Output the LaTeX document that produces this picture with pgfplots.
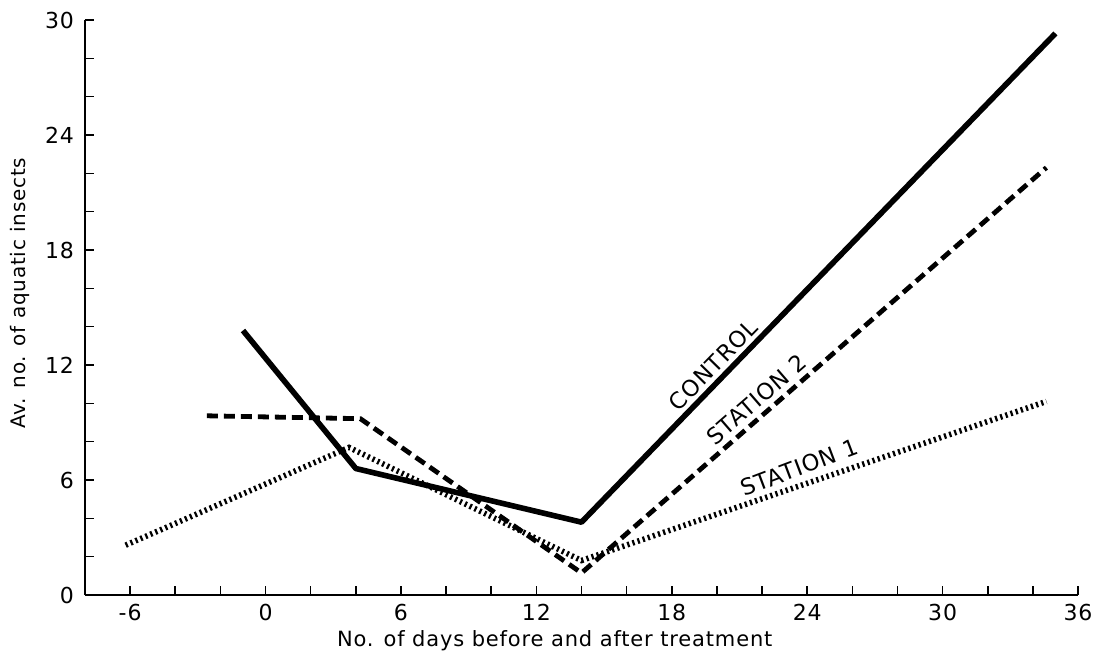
\documentclass[border=0pt]{standalone}
\usepackage{fontspec}
\setmainfont{DejaVu Sans}[LetterSpace=4]
\usepackage{pgfplots}
\pgfplotsset{compat=1.18}
\begin{document}
\begin{tikzpicture}
\begin{axis}[
  scale only axis, width=496.5pt, height=287.5pt,
  xmin=-8, xmax=36, ymin=0, ymax=30,
  axis lines=left, axis line style={line width=1pt, -},
  xtick={-6,0,...,36}, ytick={0,6,...,30},
  minor xtick={-6,-4,...,36}, minor ytick={2,4,...,28},
  tick align=inside, major tick length=4.5pt, minor tick length=4.5pt,
  tick style={line width=0.8pt, black},
  ticklabel style={font=\fontsize{11}{12}\selectfont},
  xticklabel style={yshift=-1pt},
  yticklabel style={xshift=-2pt},
  /pgf/number format/assume math mode=true,
  xlabel={No. of days before and after treatment},
  ylabel={Av. no. of aquatic insects},
  xlabel style={at={(axis description cs:0.473,-0.08)}, anchor=center, font=\fontsize{10.5}{12}\selectfont},
  ylabel style={at={(axis description cs:-0.0655,0.525)}, anchor=center, font=\fontsize{10}{12}\selectfont},
  clip=false,
]
\addplot[black, line width=2.8pt, line join=round] coordinates {(-1,13.8) (4,6.6) (14,3.8) (35,29.3)};
\addplot[black, line width=2.4pt, dash pattern=on 5.5pt off 3pt] coordinates {(-2.6,9.35) (4.2,9.2) (14,1.15) (34.6,22.3)};
\addplot[black, line width=2.8pt, dash pattern=on 1.1pt off 1.6pt] coordinates {(-6.2,2.6) (3.7,7.7) (14,1.8) (34.6,10.1)};
\node[rotate=45.6, anchor=base, inner sep=0pt, font=\fontsize{11.3}{12}\selectfont] at (axis cs:20.10,11.70) {CONTROL};
\node[rotate=40.9, anchor=base, inner sep=0pt, font=\fontsize{11.3}{12}\selectfont] at (axis cs:21.98,9.87) {STATION 2};
\node[rotate=20.7, anchor=base, inner sep=0pt, font=\fontsize{11.3}{12}\selectfont] at (axis cs:23.77,6.25) {STATION 1};
\end{axis}
\pgfresetboundingbox
\path[use as bounding box] (-42.5pt,-30pt) rectangle (506pt,297.5pt);
\end{tikzpicture}
\end{document}
